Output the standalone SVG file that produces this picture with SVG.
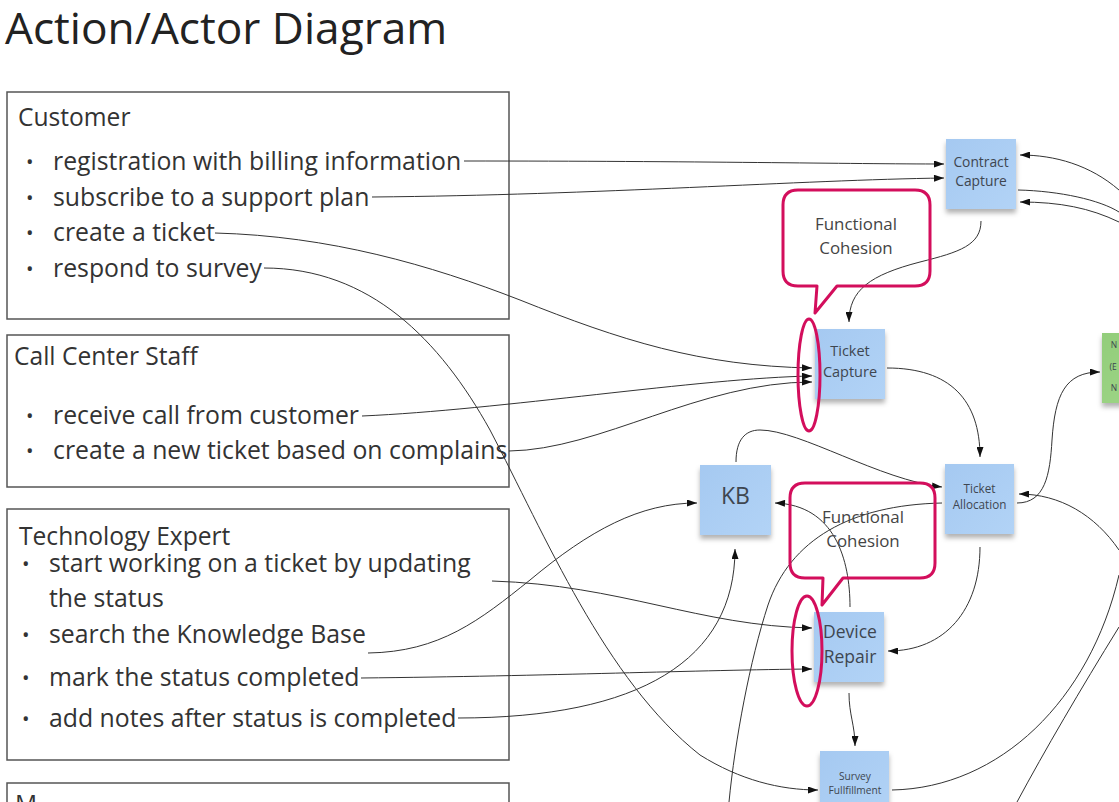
<svg xmlns="http://www.w3.org/2000/svg" width="1119" height="802" viewBox="0 0 1119 802">
<style>
.t{font-family:"Open Sans","Noto Sans","Liberation Sans",sans-serif;fill:#333}
.title{font-size:44.2px;fill:#222}
.h{font-size:24.6px}
.b{font-size:24.8px}
.dot{font-size:20px}
.box{fill:none;stroke:#555;stroke-width:1.5}
.note{fill:url(#blue);filter:url(#sh)}
.gnote{fill:url(#green);filter:url(#sh)}
.nt{font-family:"Open Sans","Noto Sans","Liberation Sans",sans-serif;fill:#3e4650;text-anchor:middle}
.co{fill:none;stroke:#d30e5c;stroke-width:3;stroke-linejoin:round}
.ct{font-family:"Open Sans","Noto Sans","Liberation Sans",sans-serif;fill:#444;font-size:16.9px;text-anchor:middle}
.c{fill:none;stroke:#333;stroke-width:1}
.a{marker-end:url(#arr)}
</style>
<defs>
<marker id="arr" viewBox="0 0 10 7" refX="10" refY="3.5" markerWidth="11" markerHeight="7" markerUnits="userSpaceOnUse" orient="auto">
<path d="M0,0 L10,3.5 L0,7 Z" fill="#111"/>
</marker>
<linearGradient id="blue" x1="0" y1="0" x2="1" y2="1">
<stop offset="0" stop-color="#a5c9f1"/>
<stop offset="1" stop-color="#b2d3f6"/>
</linearGradient>
<linearGradient id="green" x1="0" y1="0" x2="1" y2="1">
<stop offset="0" stop-color="#92cd7a"/>
<stop offset="1" stop-color="#a1d78a"/>
</linearGradient>
<filter id="sh" x="-20%" y="-20%" width="140%" height="150%">
<feDropShadow dx="0" dy="4" stdDeviation="2.5" flood-color="#000" flood-opacity="0.3"/>
</filter>
</defs>

<text class="t title" x="5" y="44">Action/Actor Diagram</text>

<g id="customer">
<rect class="box" x="7" y="92" width="502" height="227"/>
<text class="t h" x="18" y="126">Customer</text>
<text class="t dot" x="26" y="169">•</text><text class="t b" x="53" y="170">registration with billing information</text>
<text class="t dot" x="26" y="205">•</text><text class="t b" x="53" y="205.5">subscribe to a support plan</text>
<text class="t dot" x="26" y="240">•</text><text class="t b" x="53" y="241">create a ticket</text>
<text class="t dot" x="26" y="276">•</text><text class="t b" x="53" y="276.5">respond to survey</text>
</g>

<g id="call-center-staff">
<rect class="box" x="7" y="335" width="502" height="152"/>
<text class="t h" x="14" y="365">Call Center Staff</text>
<text class="t dot" x="26" y="423">•</text><text class="t b" x="53" y="424">receive call from customer</text>
<text class="t dot" x="26" y="458">•</text><text class="t b" x="53" y="459">create a new ticket based on complains</text>
</g>

<g id="technology-expert">
<rect class="box" x="7" y="509" width="502" height="251"/>
<text class="t h" x="19" y="545">Technology Expert</text>
<text class="t dot" x="22" y="571">•</text><text class="t b" x="49" y="572">start working on a ticket by updating</text>
<text class="t b" x="49" y="607">the status</text>
<text class="t dot" x="22" y="642">•</text><text class="t b" x="49" y="643">search the Knowledge Base</text>
<text class="t dot" x="22" y="685">•</text><text class="t b" x="49" y="686">mark the status completed</text>
<text class="t dot" x="22" y="726">•</text><text class="t b" x="49" y="727">add notes after status is completed</text>
</g>

<g id="manager">
<rect class="box" x="7" y="783" width="502" height="60"/>
<text class="t h" x="15" y="813">M</text>
</g>

<g id="contract-capture">
<rect class="note" x="946" y="139" width="70" height="70"/>
<text class="nt" x="981" y="167" font-size="13.8">Contract</text>
<text class="nt" x="981" y="186" font-size="13.8">Capture</text>
</g>

<g id="ticket-capture">
<rect class="note" x="815" y="329" width="70" height="70"/>
<text class="nt" x="850" y="356" font-size="14.5">Ticket</text>
<text class="nt" x="850" y="377" font-size="14.5">Capture</text>
</g>

<g id="kb">
<rect class="note" x="700" y="465" width="71" height="70"/>
<text class="nt" x="735.5" y="504" font-size="23">KB</text>
</g>

<g id="ticket-allocation">
<rect class="note" x="945" y="464" width="69" height="70"/>
<text class="nt" x="979.5" y="493" font-size="11.7">Ticket</text>
<text class="nt" x="979.5" y="509" font-size="11.7">Allocation</text>
</g>

<g id="device-repair">
<rect class="note" x="814" y="612" width="70" height="70"/>
<text class="nt" x="850" y="638" font-size="17.5">Device</text>
<text class="nt" x="850" y="663" font-size="17.5">Repair</text>
</g>

<g id="survey-fullfillment">
<rect class="note" x="820" y="751" width="69" height="70"/>
<text class="nt" x="855" y="780" font-size="10.2">Survey</text>
<text class="nt" x="855" y="794" font-size="10.2">Fullfillment</text>
</g>

<g id="green-note">
<rect class="gnote" x="1102" y="333" width="70" height="70"/>
<text class="nt" x="1114" y="348" font-size="8.5" text-anchor="start">N</text>
<text class="nt" x="1113" y="370" font-size="8.5" text-anchor="start">(E</text>
<text class="nt" x="1114" y="391" font-size="8.5" text-anchor="start">N</text>
</g>

<g id="connectors">
<path class="c a" d="M464,161 C700,161 850,164 944,164"/>
<path class="c a" d="M372,197 C600,195 800,180 944,178"/>
<path class="c a" d="M215,233 C330,236 430,265 520,300 C620,340 700,366 812,368"/>
<path class="c a" d="M264,268 C370,268 440,340 490,430 C545,535 605,680 700,755 C740,780 780,790 818,790"/>
<path class="c a" d="M362,416 C500,410 700,378 812,376"/>
<path class="c a" d="M509,451 C600,450 700,382 812,382"/>
<path class="c a" d="M492,581 C620,585 700,626 812,628"/>
<path class="c a" d="M368,653 C440,652 480,620 530,580 C590,530 640,503 697,503"/>
<path class="c a" d="M361,678 C550,676 700,670 812,669"/>
<path class="c a" d="M458,718 C640,718 735,660 735,549"/>
<path class="c a" d="M981,221 C981,245 960,252 920,262 C870,275 849,290 849,322"/>
<path class="c a" d="M887,368 C950,368 980,400 980,457"/>
<path class="c a" d="M736,462 C736,440 745,430 760,430 C800,430 880,480 942,487"/>
<path class="c a" d="M850,607 C850,560 835,505 775,503"/>
<path class="c" d="M942,503 C850,505 790,540 768,605 C750,660 735,740 729,802"/>
<path class="c a" d="M980,547 C980,610 945,651 888,651"/>
<path class="c a" d="M849,693 C849,715 855,725 855,746"/>
<path class="c a" d="M1017,503 C1045,503 1050,475 1052,440 C1055,395 1065,372 1100,372"/>
<path class="c a" d="M1119,550 C1095,515 1060,494 1019,494"/>
<path class="c" d="M892,790 C1000,788 1090,700 1119,575"/>
<path class="c" d="M1017,802 C1045,750 1080,690 1119,627"/>
<path class="c a" d="M1119,190 C1090,165 1055,155 1020,155"/>
<path class="c" d="M1018,190 C1060,191 1100,200 1119,212"/>
<path class="c a" d="M1119,222 C1090,208 1060,202 1020,202"/>
</g>

<g id="callout-1">
<path class="co" d="M798,190 H915 Q930,190 930,205 V271 Q930,286 915,286 H837 L815,313 L817,286 H798 Q783,286 783,271 V205 Q783,190 798,190 Z"/>
<text class="ct" x="856" y="230">Functional</text>
<text class="ct" x="856" y="254">Cohesion</text>
<ellipse class="co" cx="809" cy="375" rx="11" ry="56"/>
</g>

<g id="callout-2">
<path class="co" d="M805,483 H920 Q935,483 935,498 V563 Q935,578 920,578 H843 L822,605 L823,578 H805 Q790,578 790,563 V498 Q790,483 805,483 Z"/>
<text class="ct" x="863" y="523">Functional</text>
<text class="ct" x="863" y="547">Cohesion</text>
<ellipse class="co" cx="807" cy="651" rx="15" ry="55"/>
</g>
</svg>
